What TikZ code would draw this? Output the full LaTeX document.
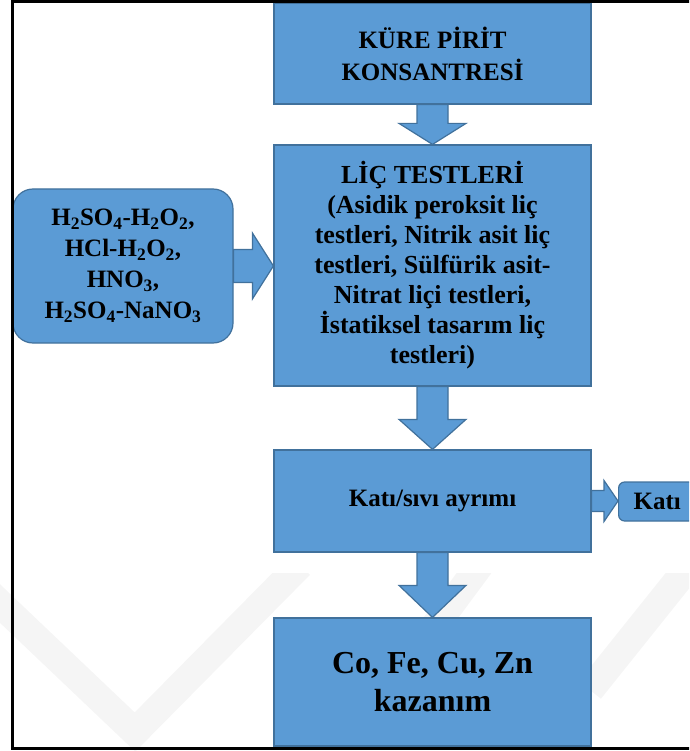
\documentclass[tikz,border=0pt]{standalone}
\usepackage{fontspec}
\setmainfont{Liberation Serif}
\usetikzlibrary{calc}
\definecolor{boxblue}{HTML}{5B9BD5}
\definecolor{boxedge}{HTML}{41719C}
\tikzset{
  box/.style={draw=boxedge, fill=boxblue, line width=1.2pt, align=center, inner sep=0pt},
  blockarrow/.style={draw=boxedge, fill=boxblue, line width=1.2pt, line join=miter},
}
% down block arrow: (from)(to)(head length)
\def\dnblock(#1)(#2)(#3){\draw[blockarrow] let \p1=(#1.south), \p2=(#2.north) in (\x1-15.5,\y1) -- (\x1+15.5,\y1) -- (\x1+15.5,\y2+#3) -- (\x1+33.5,\y2+#3) -- (\x1,\y2) -- (\x1-33.5,\y2+#3) -- (\x1-15.5,\y2+#3) -- cycle;}
% right block arrow: (from)(to)(shaft half)(head half)(head length)
\def\rtblock(#1)(#2)(#3)(#4)(#5){\draw[blockarrow] let \p1=(#1.east), \p2=(#2.west) in (\x1,\y1+#3) -- (\x2-#5,\y1+#3) -- (\x2-#5,\y1+#4) -- (\x2,\y1) -- (\x2-#5,\y1-#4) -- (\x2-#5,\y1-#3) -- (\x1,\y1-#3) -- cycle;}

\begin{document}
\begin{tikzpicture}[x=1pt, y=-1pt]
			%%%%% START %%%%%
			\useasboundingbox (0,0) rectangle (689,751);
			\clip (0,0) rectangle (689,751);
			
			% faint watermark
			\begin{scope}
				\clip (0,573) rectangle (689,751);
				\draw[black!4, line width=28pt] (-30,575) -- (135,732) -- (300,565);
				\draw[black!4, line width=28pt] (480,565) -- (380,700);
				\draw[black!4, line width=28pt] (690,565) -- (590,690);
			\end{scope}
			
			\node[box, minimum width=317, minimum height=101, font=\fontsize{25}{32}\selectfont\bfseries] (kure) at (432.5, 53.5) {KÜRE PİRİT\\KONSANTRESİ};
			\node[box, minimum width=317, minimum height=241, font=\fontsize{26}{30}\selectfont\bfseries] (lic) at (432.5, 265.5) {LİÇ TESTLERİ\\(Asidik peroksit liç\\testleri, Nitrik asit liç\\testleri, Sülfürik asit-\\Nitrat liçi testleri,\\İstatiksel tasarım liç\\testleri)};
			\node[box, minimum width=317, minimum height=102, font=\fontsize{25}{30}\selectfont\bfseries] (ayrim) at (432.5, 501) {Katı/sıvı ayrımı};
			\node[box, minimum width=317, minimum height=128, font=\fontsize{32}{38}\selectfont\bfseries] (kazanim) at (432.5, 682) {Co, Fe, Cu, Zn\\kazanım};
			\node[box, rounded corners=20, minimum width=220, minimum height=154, font=\fontsize{25}{31}\selectfont\bfseries] (asit) at (123, 266) {H\textsubscript{2}SO\textsubscript{4}-H\textsubscript{2}O\textsubscript{2},\\HCl-H\textsubscript{2}O\textsubscript{2},\\HNO\textsubscript{3},\\H\textsubscript{2}SO\textsubscript{4}-NaNO\textsubscript{3}};
			\node[box, rounded corners=6, minimum height=39, inner xsep=15, anchor=west, font=\fontsize{25}{30}\selectfont\bfseries] (kati) at (618, 501.5) {Katı};
			
			\dnblock(kure)(lic)(21)
			\dnblock(lic)(ayrim)(30)
			\dnblock(ayrim)(kazanim)(32)
			\rtblock(asit)(lic)(16.5)(33)(21)
			\rtblock(ayrim)(kati)(10.5)(20.5)(14)
			
			% frame
			\draw[line width=3pt] (12,1.5) rectangle (720,748.5);
			%%%%% END %%%%%
\end{tikzpicture}
\end{document}
